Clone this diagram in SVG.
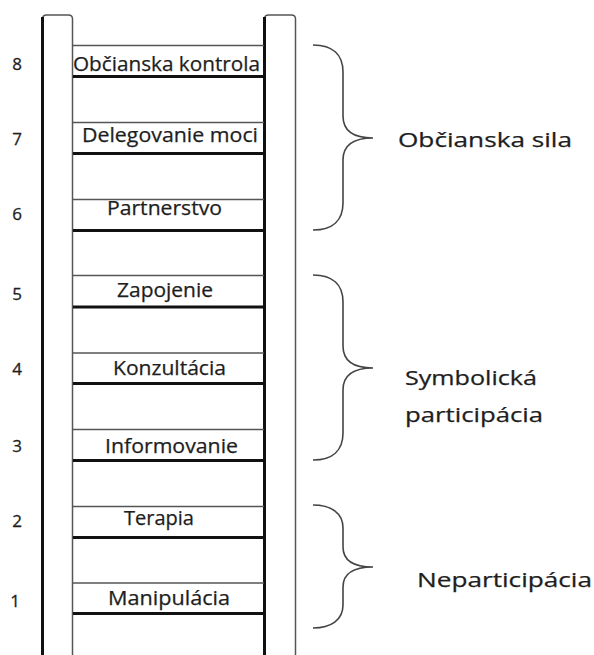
<svg xmlns="http://www.w3.org/2000/svg" width="594" height="655" viewBox="0 0 594 655">
<style>
.thin{stroke:#555;stroke-width:1.5;fill:none}
.thick{stroke:#111;stroke-width:3;fill:none}
.brace{stroke:#444;stroke-width:1.6;fill:none}
.lbl{font-family:"Open Sans","Liberation Sans",sans-serif;font-size:19.5px;fill:#1e1e1e;stroke:#1e1e1e;stroke-width:0.25}
.num{font-family:"Open Sans","Liberation Sans",sans-serif;font-size:17px;fill:#1e1e1e;stroke:#1e1e1e;stroke-width:0.3;text-anchor:middle}
.grp{font-family:"Open Sans","Liberation Sans",sans-serif;font-size:20px;fill:#1e1e1e;stroke:#1e1e1e;stroke-width:0.25}
</style>
<rect width="594" height="655" fill="#fff"/>
<g id="rails">
<path class="thin" d="M42.5 655 V19 Q42.5 15 46.5 15 H68.5 Q72.5 15 72.5 19 V655"/>
<line class="thick" x1="42.5" y1="17" x2="42.5" y2="655"/>
<path class="thin" d="M264.5 655 V19 Q264.5 15 268.5 15 H291.5 Q295.5 15 295.5 19 V655"/>
<line class="thick" x1="264.5" y1="17" x2="264.5" y2="655"/>
</g>
<g id="rung8">
<line class="thin" x1="73" y1="45.5" x2="264" y2="45.5"/>
<line class="thick" x1="73" y1="76.5" x2="264" y2="76.5"/>
<text class="lbl" x="73" y="71" textLength="187" lengthAdjust="spacingAndGlyphs">Občianska kontrola</text>
<text class="num" x="17" y="70">8</text>
</g>
<g id="rung7">
<line class="thin" x1="73" y1="122.5" x2="264" y2="122.5"/>
<line class="thick" x1="73" y1="153.5" x2="264" y2="153.5"/>
<text class="lbl" x="82" y="142" textLength="176" lengthAdjust="spacingAndGlyphs">Delegovanie moci</text>
<text class="num" x="17" y="145">7</text>
</g>
<g id="rung6">
<line class="thin" x1="73" y1="199.5" x2="264" y2="199.5"/>
<line class="thick" x1="73" y1="230.5" x2="264" y2="230.5"/>
<text class="lbl" x="107" y="215" textLength="115" lengthAdjust="spacingAndGlyphs">Partnerstvo</text>
<text class="num" x="17" y="220">6</text>
</g>
<g id="rung5">
<line class="thin" x1="73" y1="275.5" x2="264" y2="275.5"/>
<line class="thick" x1="73" y1="307" x2="264" y2="307"/>
<text class="lbl" x="117" y="297" textLength="96" lengthAdjust="spacingAndGlyphs">Zapojenie</text>
<text class="num" x="17" y="300">5</text>
</g>
<g id="rung4">
<line class="thin" x1="73" y1="353" x2="264" y2="353"/>
<line class="thick" x1="73" y1="383.5" x2="264" y2="383.5"/>
<text class="lbl" x="113" y="375" textLength="113" lengthAdjust="spacingAndGlyphs">Konzultácia</text>
<text class="num" x="17" y="375">4</text>
</g>
<g id="rung3">
<line class="thin" x1="73" y1="429.5" x2="264" y2="429.5"/>
<line class="thick" x1="73" y1="460.5" x2="264" y2="460.5"/>
<text class="lbl" x="105" y="453" textLength="133" lengthAdjust="spacingAndGlyphs">Informovanie</text>
<text class="num" x="17" y="452">3</text>
</g>
<g id="rung2">
<line class="thin" x1="73" y1="506.5" x2="264" y2="506.5"/>
<line class="thick" x1="73" y1="537.5" x2="264" y2="537.5"/>
<text class="lbl" x="124" y="525" textLength="70" lengthAdjust="spacingAndGlyphs">Terapia</text>
<text class="num" x="17" y="527">2</text>
</g>
<g id="rung1">
<line class="thin" x1="73" y1="583" x2="264" y2="583"/>
<line class="thick" x1="73" y1="613.5" x2="264" y2="613.5"/>
<text class="lbl" x="108" y="605" textLength="122" lengthAdjust="spacingAndGlyphs">Manipulácia</text>
<text class="num" x="15" y="607">1</text>
</g>
<g id="group-sila">
<path class="brace" d="M313 45 C333 45 343 55 343 72 V116 C343 130 353 138 373 138 C353 138 343 146 343 160 V203 C343 220 333 230 313 230"/>
<text class="grp" x="398" y="147" textLength="174" lengthAdjust="spacingAndGlyphs">Občianska sila</text>
</g>
<g id="group-symbolicka">
<path class="brace" d="M313 275 C333 275 343 285 343 302 V346 C343 360 353 368 373 368 C353 368 343 376 343 390 V433 C343 450 333 460 313 460"/>
<text class="grp" x="405" y="385" textLength="132" lengthAdjust="spacingAndGlyphs">Symbolická</text>
<text class="grp" x="405" y="422" textLength="138" lengthAdjust="spacingAndGlyphs">participácia</text>
</g>
<g id="group-neparticipacia">
<path class="brace" d="M313 505 C331 505 343 513 343 528 V547 C343 560 353 567 373 567 C353 567 343 574 343 587 V605 C343 620 331 628 313 628"/>
<text class="grp" x="417" y="587" textLength="175" lengthAdjust="spacingAndGlyphs">Neparticipácia</text>
</g>
<g id="connectors"></g>
</svg>
